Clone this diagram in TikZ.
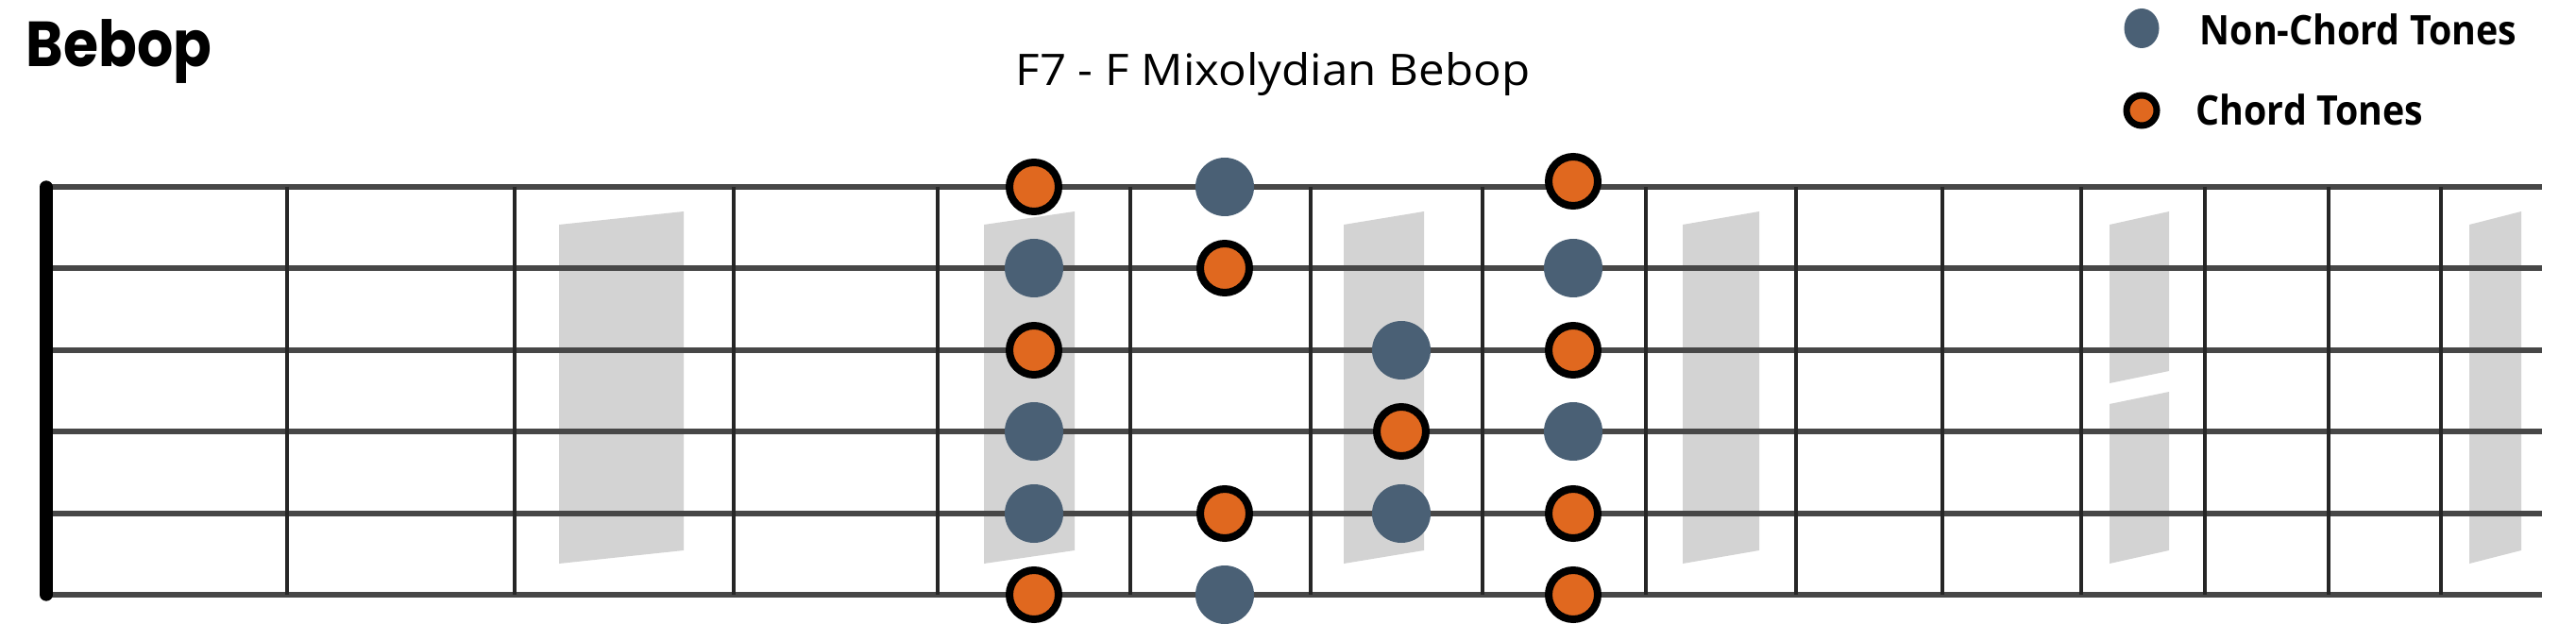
\documentclass[tikz,border=0pt]{standalone}
\usepackage{fontspec}
\setmainfont{Open Sans}
\newfontfamily\popfont{Poppins}
\usetikzlibrary{shapes.geometric}
\definecolor{tonebl}{HTML}{4A6075}
\definecolor{toneor}{HTML}{E0681F}
\definecolor{inlaygr}{HTML}{D3D3D3}
\tikzset{
  nct/.style={circle,fill=tonebl,inner sep=0pt,minimum size=0.62cm},
  ct/.style={circle,fill=toneor,draw=black,line width=0.08cm,inner sep=0pt,minimum size=0.52cm},
}
\begin{document}
\begin{tikzpicture}
\useasboundingbox (0,0) rectangle (27.28,6.78);
\foreach \a/\b in {5.92/7.24,10.42/11.38,14.23/15.08,17.82/18.63,26.15/26.70} \fill[inlaygr] (\a,4.40) -- (\b,4.54) -- (\b,0.95) -- (\a,0.81) -- cycle;
\fill[inlaygr] (22.34,4.40) -- (22.97,4.54) -- (22.97,2.85) -- (22.34,2.72) -- cycle;
\fill[inlaygr] (22.34,2.50) -- (22.97,2.63) -- (22.97,0.95) -- (22.34,0.81) -- cycle;
\foreach \y in {4.80,3.94,3.07,2.21,1.34,0.48} \draw[black!72,line width=1.65pt] (0.49,\y) -- (26.92,\y);
\foreach \x in {3.04,5.45,7.77,9.93,11.97,13.88,15.70,17.43,19.02,20.57,22.04,23.35,24.66,25.85} \draw[black!85,line width=1.15pt] (\x,4.80) -- (\x,0.48);
\draw[line width=3.8pt,line cap=round] (0.49,4.80) -- (0.49,0.48);
\foreach \x/\y/\t/\n in {10.95/4.80/ct/a1,10.95/3.94/nct/a2,10.95/3.07/ct/a3,10.95/2.21/nct/a4,10.95/1.34/nct/a5,10.95/0.48/ct/a6,
  12.97/4.80/nct/b1,12.97/3.94/ct/b2,12.97/1.34/ct/b5,12.97/0.48/nct/b6,
  14.84/3.07/nct/c3,14.84/2.21/ct/c4,14.84/1.34/nct/c5,
  16.66/4.86/ct/d1,16.66/3.94/nct/d2,16.66/3.07/ct/d3,16.66/2.21/nct/d4,16.66/1.34/ct/d5,16.66/0.48/ct/d6}
  \node[\t] (\n) at (\x,\y) {};
\node[anchor=base west,inner sep=0pt,font=\popfont\bfseries\fontsize{19.2}{22}\selectfont] (title) at (0.27,6.07) {\scalebox{0.89}[1]{Bebop}};
\node[anchor=base,inner sep=0pt,font=\fontsize{13.1}{16}\selectfont] (scale) at (13.48,5.87) {\scalebox{1.07}[1]{F7 - F Mixolydian Bebop}};
\node[ellipse,fill=tonebl,inner sep=0pt,minimum width=0.37cm,minimum height=0.42cm] (keyn) at (22.68,6.48) {};
\node[ct,minimum size=0.32cm,line width=0.07cm] (keyc) at (22.68,5.61) {};
\node[anchor=base west,inner sep=0pt,font=\bfseries\fontsize{12.3}{15}\selectfont] (keyntext) at (23.29,6.30) {\scalebox{0.91}[1]{Non-Chord Tones}};
\node[anchor=base west,inner sep=0pt,font=\bfseries\fontsize{12.3}{15}\selectfont] (keyctext) at (23.25,5.45) {\scalebox{0.91}[1]{Chord Tones}};
\end{tikzpicture}
\end{document}
